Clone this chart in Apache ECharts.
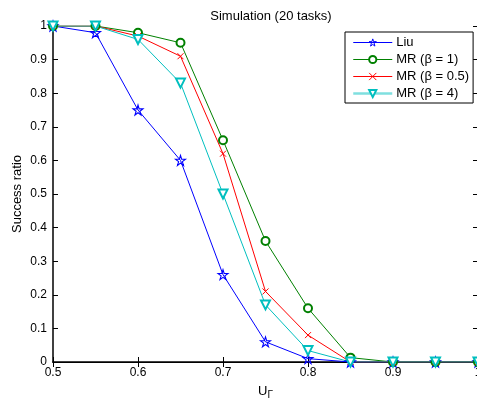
<!DOCTYPE html>
<html>
<head>
<meta charset="utf-8">
<script src="https://cdn.jsdelivr.net/npm/echarts@6/dist/echarts.min.js"></script>
<style>html,body{margin:0;padding:0;background:#fff;}#c{width:477px;height:403px;}</style>
</head>
<body>
<div id="c"></div>
<script>
var xValues = [0.5, 0.55, 0.6, 0.65, 0.7, 0.75, 0.8, 0.85, 0.9, 0.95, 1.0];
var liu   = [1, 0.98, 0.75, 0.60, 0.26, 0.06, 0.01, 0, 0, 0, 0];
var mr1   = [1, 1, 0.98, 0.95, 0.66, 0.36, 0.16, 0.013, 0, 0, 0];
var mr05  = [1, 1, 0.97, 0.91, 0.62, 0.21, 0.08, 0, 0, 0, 0];
var mr4   = [1, 1, 0.96, 0.83, 0.50, 0.17, 0.034, 0, 0, 0, 0];
var seriesNames = ['Liu', 'MR (β = 1)', 'MR (β = 0.5)', 'MR (β = 4)'];

function pairs(ys) { return xValues.map(function (x, i) { return [x, ys[i]]; }); }

var starPath = 'path://M50,0 L61,35 L98,35 L68,57 L79,91 L50,70 L21,91 L32,57 L2,35 L39,35 Z';
var xPath = 'path://M0,0 L10,10 M10,0 L0,10';
var font = 'Liberation Sans, Arial, Helvetica, sans-serif';

var chart = echarts.init(document.getElementById('c'), null, {renderer: 'canvas'});
var axisBase = {
  axisLine: {show: true, lineStyle: {color: '#000', width: 1}},
  splitLine: {show: false}
};
chart.setOption({
  animation: false,
  backgroundColor: '#fff',
  title: {
    text: 'Simulation (20 tasks)', left: 266, top: 5, textAlign: 'center',
    textStyle: {fontFamily: font, fontSize: 13, fontWeight: 'normal', color: '#000'}
  },
  grid: {left: 53, top: 26, width: 425, height: 336, containLabel: false, outerBoundsMode: 'none'},
  legend: {
    orient: 'vertical', left: 345, top: 32,
    backgroundColor: '#fff', borderColor: '#000', borderWidth: 1,
    padding: [4, 4, 3, 7],
    itemWidth: 39, itemHeight: 9, itemGap: 4,
    lineStyle: {width: 1},
    itemStyle: {borderWidth: 1},
    textStyle: {fontFamily: font, fontSize: 13, color: '#000', padding: [0, 0, 0, -1]},
    data: [
      {name: seriesNames[0]},
      {name: seriesNames[1]},
      {name: seriesNames[2]},
      {name: seriesNames[3], lineStyle: {width: 2.5, color: '#7fdfdf'}}
    ]
  },
  xAxis: [
    Object.assign({}, axisBase, {
      type: 'value', min: 0.5, max: 1, interval: 0.1, position: 'bottom',
      axisLine: {show: true, lineStyle: {color: '#000', width: 1.5}},
      axisTick: {show: true, inside: true, length: 5, lineStyle: {color: '#000'}},
      axisLabel: {fontFamily: font, fontSize: 12, color: '#000', margin: 5},
      name: 'U{sub|Γ}', nameLocation: 'middle', nameGap: 20, nameMoveOverlap: false,
      nameTextStyle: {fontFamily: font, fontSize: 13, color: '#000',
        rich: {sub: {fontFamily: font, fontSize: 10, color: '#000', verticalAlign: 'bottom', padding: [8, 0, 0, 0]}}}
    }),
    Object.assign({}, axisBase, {
      type: 'value', min: 0.5, max: 1, interval: 0.1, position: 'top',
      axisTick: {show: true, inside: true, length: 5, lineStyle: {color: '#000'}},
      axisLabel: {show: false}
    })
  ],
  yAxis: [
    Object.assign({}, axisBase, {
      type: 'value', min: 0, max: 1, interval: 0.1, position: 'left',
      axisLine: {show: true, lineStyle: {color: '#000', width: 1.5}},
      axisTick: {show: true, inside: true, length: 5, lineStyle: {color: '#000'}},
      axisLabel: {fontFamily: font, fontSize: 12, color: '#000', margin: 6},
      name: 'Success ratio', nameLocation: 'middle', nameGap: 29, nameRotate: 90, nameMoveOverlap: false,
      nameTextStyle: {fontFamily: font, fontSize: 13, color: '#000'}
    }),
    Object.assign({}, axisBase, {
      type: 'value', min: 0, max: 1, interval: 0.1, position: 'right',
      axisTick: {show: true, inside: true, length: 5, lineStyle: {color: '#000'}},
      axisLabel: {show: false}
    })
  ],
  series: [
    {
      name: seriesNames[0], type: 'line', data: pairs(liu),
      symbol: starPath, symbolSize: 10, showAllSymbol: true,
      lineStyle: {color: '#0000ff', width: 1},
      itemStyle: {color: 'rgba(0,0,0,0)', borderColor: '#0000ff', borderWidth: 1.1},
      emphasis: {disabled: true}
    },
    {
      name: seriesNames[1], type: 'line', data: pairs(mr1),
      symbol: 'emptyCircle', symbolSize: 8,
      lineStyle: {color: '#008000', width: 1},
      itemStyle: {color: '#008000', borderColor: '#008000', borderWidth: 0.9},
      emphasis: {disabled: true}
    },
    {
      name: seriesNames[2], type: 'line', data: pairs(mr05),
      symbol: xPath, symbolSize: 6,
      lineStyle: {color: '#ff0000', width: 1},
      itemStyle: {color: 'rgba(0,0,0,0)', borderColor: '#ff0000', borderWidth: 1},
      emphasis: {disabled: true}
    },
    {
      name: seriesNames[3], type: 'line', data: pairs(mr4),
      symbol: 'emptyTriangle', symbolRotate: 180, symbolSize: 9,
      lineStyle: {color: '#00bfbf', width: 1},
      itemStyle: {color: '#00bfbf', borderColor: '#00bfbf', borderWidth: 0.9},
      emphasis: {disabled: true}
    }
  ]
});
</script>
</body>
</html>
